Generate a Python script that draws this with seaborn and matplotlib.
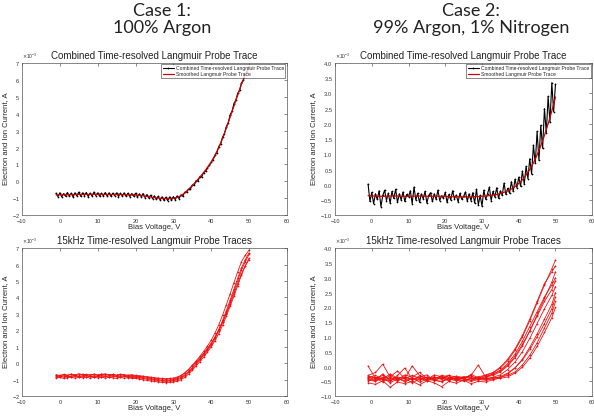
import numpy as np
import pandas as pd
import matplotlib
matplotlib.use("Agg")
import matplotlib.pyplot as plt
from matplotlib.ticker import ScalarFormatter
import seaborn as sns

# ---- data (currents in mA, converted to A when plotted) ----
# combined trace sweep, 0.5 V steps
combined_v = np.arange(-1, 50.5, 0.5)
# smoothed trace / 15 kHz traces of case 1, 1 V steps
smooth_v = np.arange(-1, 51, 1)
# 15 kHz traces of case 2 are sampled more coarsely
case2_trace_v = [-1, 1, 3, 5, 7, 9, 11, 13, 15, 17, 19, 21, 23, 25, 27, 29,
                 31, 33, 35, 37, 39, 41, 43, 45, 47, 49, 50]

case1_combined = [
    -0.70, -0.90, -0.68, -0.92, -0.72, -0.88, -0.66, -0.87, -0.70, -0.92, -0.68,
    -0.86, -0.64, -0.88, -0.68, -0.84, -0.66, -0.90, -0.70, -0.86, -0.64, -0.84,
    -0.68, -0.88, -0.70, -0.86, -0.66, -0.87, -0.68, -0.88, -0.70, -0.84,
    -0.68, -0.90, -0.70, -0.86, -0.68, -0.88, -0.70, -0.90, -0.72, -0.88,
    -0.70, -0.92, -0.74, -0.90, -0.72, -0.96, -0.78, -0.98, -0.82, -1.02,
    -0.86, -1.06, -0.88, -1.10, -0.92, -1.12, -0.94, -1.14, -0.92, -1.12,
    -0.90, -1.08, -0.86, -1.02, -0.80, -0.88, -0.64, -0.64, -0.46, -0.46,
    -0.22, -0.24, 0.04, 0.02, 0.28, 0.28, 0.52, 0.60, 0.80, 0.94,
    1.12, 1.28, 1.54, 1.70, 2.06, 2.20, 2.62, 2.82, 3.24, 3.46,
    3.94, 4.14, 4.60, 4.80, 5.20, 5.38, 5.82, 5.98, 6.36, 6.48, 6.78]

case1_smooth = [
    -0.80, -0.80, -0.79, -0.79, -0.78, -0.78, -0.77, -0.77, -0.77, -0.77, -0.77,
    -0.77, -0.77, -0.77, -0.78, -0.78, -0.78, -0.78, -0.79, -0.80, -0.80,
    -0.81, -0.83, -0.86, -0.89, -0.93, -0.96, -0.99, -1.01, -1.02, -1.02,
    -1.00, -0.95, -0.85, -0.68, -0.47, -0.25, 0.00, 0.25, 0.52, 0.82,
    1.15, 1.55, 2.00, 2.55, 3.15, 3.80, 4.45, 5.10, 5.75, 6.30, 6.75]

case1_traces = [
    [-0.72, -0.78, -0.70, -0.76, -0.68, -0.74, -0.70, -0.66, -0.72, -0.70, -0.68,
     -0.74, -0.66, -0.70, -0.72, -0.68, -0.74, -0.70, -0.72, -0.76, -0.74,
     -0.78, -0.80, -0.82, -0.84, -0.88, -0.90, -0.94, -0.96, -0.98, -0.96,
     -0.96, -0.90, -0.78, -0.60, -0.38, -0.12, 0.14, 0.42, 0.72, 1.04,
     1.40, 1.84, 2.34, 2.92, 3.56, 4.22, 4.90, 5.56, 6.18, 6.56, 6.88],
    [-0.90, -0.86, -0.92, -0.88, -0.84, -0.90, -0.86, -0.88, -0.84, -0.90, -0.86,
     -0.88, -0.84, -0.90, -0.86, -0.88, -0.92, -0.86, -0.90, -0.88, -0.92,
     -0.92, -0.96, -1.00, -1.04, -1.08, -1.10, -1.14, -1.16, -1.18, -1.16,
     -1.14, -1.10, -1.00, -0.86, -0.66, -0.42, -0.16, 0.10, 0.38, 0.68,
     1.00, 1.38, 1.80, 2.30, 2.86, 3.46, 4.08, 4.72, 5.36, 5.92, 6.40],
    [-0.80, -0.84, -0.76, -0.82, -0.78, -0.72, -0.80, -0.76, -0.74, -0.80, -0.76,
     -0.78, -0.72, -0.80, -0.76, -0.74, -0.80, -0.78, -0.76, -0.82, -0.80,
     -0.82, -0.84, -0.88, -0.90, -0.94, -0.98, -1.00, -1.04, -1.06, -1.04,
     -1.02, -0.96, -0.86, -0.70, -0.50, -0.26, 0.00, 0.26, 0.54, 0.86,
     1.20, 1.60, 2.06, 2.60, 3.20, 3.84, 4.50, 5.16, 5.80, 6.30, 6.72],
    [-0.70, -0.74, -0.68, -0.72, -0.66, -0.70, -0.64, -0.70, -0.68, -0.72, -0.66,
     -0.70, -0.68, -0.64, -0.70, -0.68, -0.72, -0.66, -0.70, -0.72, -0.70,
     -0.74, -0.76, -0.78, -0.82, -0.84, -0.88, -0.90, -0.92, -0.94, -0.92,
     -0.90, -0.84, -0.74, -0.58, -0.38, -0.16, 0.08, 0.34, 0.60, 0.90,
     1.22, 1.58, 2.00, 2.48, 3.02, 3.60, 4.22, 4.84, 5.44, 5.92, 6.30],
    [-0.86, -0.80, -0.84, -0.78, -0.84, -0.80, -0.82, -0.78, -0.84, -0.78, -0.82,
     -0.80, -0.82, -0.78, -0.84, -0.80, -0.82, -0.84, -0.80, -0.84, -0.86,
     -0.86, -0.90, -0.92, -0.96, -1.00, -1.02, -1.06, -1.08, -1.10, -1.08,
     -1.06, -1.02, -0.92, -0.76, -0.56, -0.32, -0.06, 0.20, 0.48, 0.78,
     1.10, 1.50, 1.96, 2.48, 3.06, 3.70, 4.36, 5.02, 5.66, 6.18, 6.62],
]

case2_combined = [
    0.02, -0.55, -0.25, -0.62, -0.30, -0.48, -0.20, -0.72, -0.35, -0.18, -0.52,
    -0.28, -0.60, -0.22, -0.45, -0.15, -0.58, -0.30, -0.50, -0.24, -0.55, -0.32,
    -0.40, -0.20, -0.62, -0.08, -0.50, -0.28, -0.58, -0.30, -0.46, -0.22,
    -0.60, -0.35, -0.26, -0.55, -0.30, -0.48, -0.18, -0.52, -0.36, -0.44,
    -0.25, -0.58, -0.32, -0.50, -0.20, -0.46, -0.34, -0.56, -0.28, -0.48,
    -0.38, -0.24, -0.54, -0.30, -0.52, -0.26, -0.60, -0.15, -0.66, -0.35,
    -0.70, -0.18, -0.48, -0.30, -0.08, -0.52, -0.22, -0.40, -0.10, -0.45,
    -0.20, -0.35, 0.05, -0.32, -0.12, -0.28, 0.10, -0.22, 0.18, -0.10,
    0.25, -0.05, 0.45, 0.02, 0.60, 0.20, 0.85, 0.35, 1.30, 0.70, 1.75,
    0.80, 1.95, 1.20, 2.50, 1.70, 2.90, 2.05, 3.35, 2.40, 3.30]

case2_smooth = [
    -0.36, -0.37, -0.37, -0.38, -0.38, -0.38, -0.37, -0.37, -0.37, -0.38, -0.38,
    -0.38, -0.38, -0.37, -0.37, -0.37, -0.38, -0.38, -0.38, -0.38, -0.38,
    -0.38, -0.39, -0.39, -0.39, -0.40, -0.40, -0.40, -0.40, -0.39, -0.39,
    -0.38, -0.37, -0.36, -0.34, -0.32, -0.29, -0.25, -0.20, -0.14, -0.06,
    0.04, 0.16, 0.32, 0.50, 0.72, 0.98, 1.28, 1.62, 2.00, 2.42, 2.88]

case2_traces = [
    [0.02, -0.40, -0.30, -0.45, -0.35, -0.42, -0.30, -0.40, -0.44, -0.36,
     -0.40, -0.38, -0.42, -0.36, -0.40, -0.34, -0.30, -0.22, -0.05, 0.20,
     0.55, 1.00, 1.55, 2.15, 2.75, 3.30, 3.60],
    [-0.45, -0.50, -0.38, -0.55, -0.42, -0.48, -0.40, -0.52, -0.44, -0.46,
     -0.50, -0.42, -0.48, -0.45, -0.50, -0.44, -0.46, -0.42, -0.40, -0.35,
     -0.22, -0.02, 0.28, 0.68, 1.15, 1.65, 2.00],
    [-0.30, -0.20, 0.08, -0.35, -0.15, -0.40, 0.02, -0.30, -0.45, -0.28,
     -0.35, -0.40, -0.32, -0.38, -0.30, 0.05, -0.36, -0.25, -0.15, 0.05,
     0.35, 0.75, 1.20, 1.70, 2.20, 2.60, 2.90],
    [-0.55, -0.60, -0.48, -0.70, -0.52, -0.58, -0.50, -0.62, -0.48, -0.55,
     -0.68, -0.50, -0.56, -0.46, -0.58, -0.50, -0.52, -0.45, -0.38, -0.25,
     -0.05, 0.25, 0.65, 1.10, 1.60, 2.10, 2.50],
    [-0.38, -0.30, -0.42, -0.25, -0.40, -0.36, -0.44, -0.32, -0.38, -0.42,
     -0.30, -0.36, -0.40, -0.34, -0.38, -0.42, -0.35, -0.30, -0.18, 0.02,
     0.30, 0.70, 1.20, 1.75, 2.30, 2.85, 3.20],
    [-0.42, -0.48, -0.36, -0.40, -0.50, -0.34, -0.44, -0.38, -0.48, -0.40,
     -0.36, -0.46, -0.40, -0.50, -0.38, -0.44, -0.40, -0.38, -0.36, -0.30,
     -0.18, 0.05, 0.38, 0.80, 1.30, 1.80, 2.20],
    [-0.35, -0.45, -0.25, -0.50, -0.30, -0.05, -0.42, -0.36, -0.28, -0.48,
     -0.34, -0.30, -0.46, -0.38, -0.32, -0.40, -0.28, -0.20, -0.02, 0.25,
     0.60, 1.05, 1.60, 2.20, 2.80, 3.20, 3.40],
    [-0.48, -0.40, -0.52, -0.36, -0.46, -0.40, -0.55, -0.42, -0.36, -0.46,
     -0.52, -0.38, -0.44, -0.40, -0.46, -0.38, -0.42, -0.36, -0.28, -0.10,
     0.15, 0.50, 0.95, 1.45, 1.95, 2.40, 2.70],
    [-0.40, -0.36, -0.44, -0.48, -0.38, -0.52, -0.40, -0.46, -0.36, -0.44,
     -0.40, -0.48, -0.36, -0.42, -0.46, -0.40, -0.44, -0.40, -0.34, -0.22,
     -0.04, 0.22, 0.58, 1.00, 1.45, 1.95, 2.35],
    [-0.32, -0.38, -0.46, -0.30, -0.44, -0.28, -0.36, -0.20, -0.40, -0.34,
     -0.44, -0.30, -0.36, -0.42, -0.26, -0.38, -0.34, -0.26, -0.12, 0.10,
     0.42, 0.85, 1.35, 1.85, 2.35, 2.75, 3.00],
]

x_ticks = [-10, 0, 10, 20, 30, 40, 50, 60]
case1_yticks = [-2, -1, 0, 1, 2, 3, 4, 5, 6, 7]
case2_yticks = [-1, -0.5, 0, 0.5, 1, 1.5, 2, 2.5, 3, 3.5, 4]

COMBINED_LABEL = "Combined Time-resolved Langmuir Probe Trace"
SMOOTH_LABEL = "Smoothed Langmuir Probe Trace"


def traces_frame(v, traces):
    """long-format table of the 15kHz traces"""
    rows = []
    for i, tr in enumerate(traces):
        for x, y in zip(v, tr):
            rows.append({"trace": i, "V": x, "I": y * 1e-3})
    return pd.DataFrame(rows)


def style_axes(ax, yticks, title):
    ax.set_xlim(-10, 60)
    ax.set_ylim(yticks[0] * 1e-3, yticks[-1] * 1e-3)
    ax.set_xticks(x_ticks)
    ax.set_yticks([t * 1e-3 for t in yticks])
    fmt = ScalarFormatter(useMathText=True)
    fmt.set_powerlimits((-3, -3))
    ax.yaxis.set_major_formatter(fmt)
    ax.yaxis.get_offset_text().set_fontsize(3.5)
    ax.tick_params(direction="in", length=2, width=0.4, labelsize=4,
                   top=True, right=True, colors="#333333")
    ax.tick_params(axis="x", pad=2.5)
    ax.tick_params(axis="y", pad=1.5)
    for s in ax.spines.values():
        s.set_linewidth(0.5)
        s.set_color("#555555")
    ax.set_title(title, fontsize=7, pad=3, color="#222222")
    ax.set_xlabel("Bias Voltage, V", fontsize=5.5, labelpad=0.5)
    ax.set_ylabel("Electron and Ion Current, A", fontsize=5.5, labelpad=2)


sns.set_style("white")
plt.rcParams["font.family"] = ["Liberation Sans", "DejaVu Sans"]

fig = plt.figure(figsize=(5.94, 4.17), dpi=100)
ax_tl = fig.add_axes([0.037, 0.484, 0.446, 0.365])
ax_tr = fig.add_axes([0.564, 0.484, 0.433, 0.365])
ax_bl = fig.add_axes([0.037, 0.050, 0.446, 0.355])
ax_br = fig.add_axes([0.564, 0.050, 0.433, 0.355])

# top row: combined trace + smoothed
for ax, comb, smooth, yt in [(ax_tl, case1_combined, case1_smooth, case1_yticks),
                             (ax_tr, case2_combined, case2_smooth, case2_yticks)]:
    sns.lineplot(x=combined_v, y=np.array(comb) * 1e-3, ax=ax, color="black",
                 linewidth=0.8, marker=".", markersize=2.5, markeredgewidth=0,
                 estimator=None, sort=False, label=COMBINED_LABEL)
    sns.lineplot(x=smooth_v, y=np.array(smooth) * 1e-3, ax=ax, color="#d00000",
                 linewidth=0.9, estimator=None, sort=False, label=SMOOTH_LABEL)
    style_axes(ax, yt, "Combined Time-resolved Langmuir Probe Trace")
    leg = ax.legend(loc="upper right", fontsize=3.6, frameon=True, fancybox=False,
                    borderpad=0.3, labelspacing=0.15, handlelength=2.2,
                    handletextpad=0.4, borderaxespad=0.3)
    leg.get_frame().set_edgecolor("black")
    leg.get_frame().set_linewidth(0.4)

# bottom row: individual 15kHz traces
for ax, v, traces, yt in [(ax_bl, smooth_v, case1_traces, case1_yticks),
                          (ax_br, case2_trace_v, case2_traces, case2_yticks)]:
    df = traces_frame(v, traces)
    sns.lineplot(data=df, x="V", y="I", units="trace", estimator=None, sort=False,
                 ax=ax, color="#ee1111", linewidth=0.6, marker=".",
                 markersize=2.5, markeredgewidth=0, legend=False)
    style_axes(ax, yt, "15kHz Time-resolved Langmuir Probe Traces")

fig.text(0.273, 0.992, "Case 1:\n100% Argon", ha="center", va="top",
         fontsize=13, family="Lato", linespacing=1.05, color="#222222")
fig.text(0.793, 0.992, "Case 2:\n99% Argon, 1% Nitrogen", ha="center", va="top",
         fontsize=13, family="Lato", linespacing=1.05, color="#222222")

fig.savefig("out.png", dpi=100)
